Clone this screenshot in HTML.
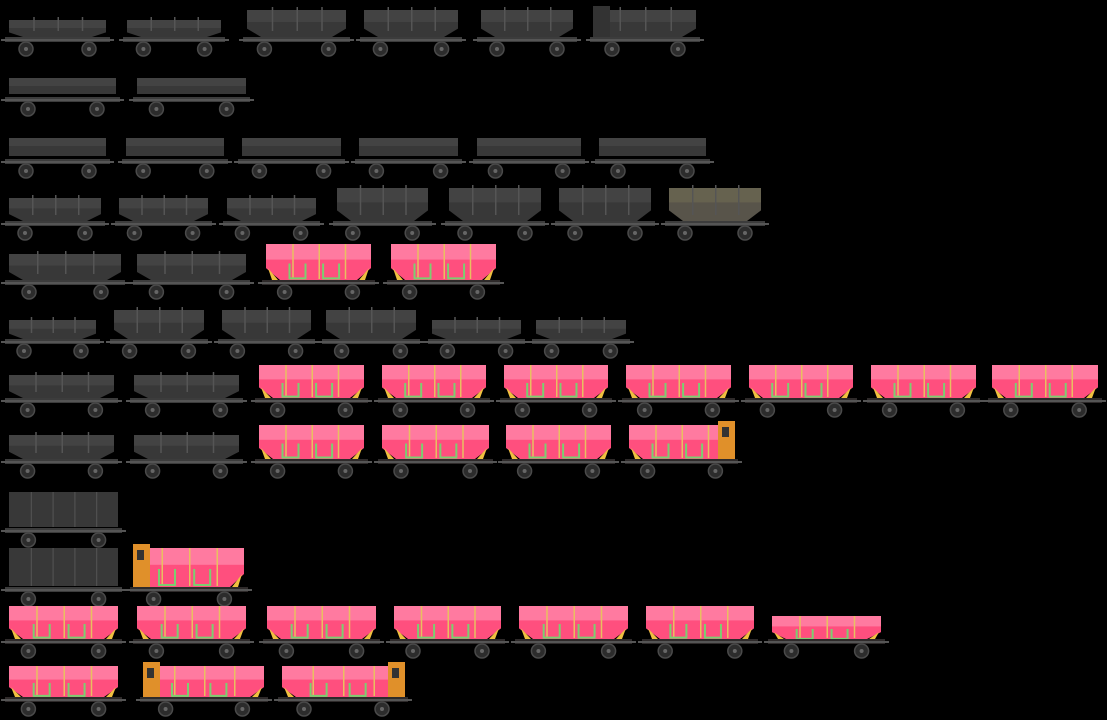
<!DOCTYPE html>
<html><head><meta charset="utf-8"><style>
html,body{margin:0;padding:0;background:#000;width:1107px;height:720px;overflow:hidden}
</style></head><body>
<svg id="s" width="1107" height="720" xmlns="http://www.w3.org/2000/svg"></svg>
<script>
const W=[];
function row(frameY,topY,list){list.forEach(a=>W.push({fy:frameY,ty:topY-(a[3]=='t'?10:0),x1:a[0],x2:a[1],c:a[2],t:a[3]||'h',cab:a[4]}));}
row(40,20,[[5,110,'d'],[123,225,'d'],[243,350,'d','t'],[360,462,'d','t'],[477,577,'d','t'],[590,700,'d','t','L']]);
row(100,78,[[5,120,'d','f'],[133,250,'d','f']]);
row(162,138,[[5,110,'d','f'],[122,228,'d','f'],[238,345,'d','f'],[355,462,'d','f'],[473,585,'d','f'],[595,710,'d','f']]);
row(224,198,[[5,105,'d'],[115,212,'d'],[223,320,'d'],[333,432,'d','t'],[445,545,'d','t'],[555,655,'d','t'],[665,765,'o','t']]);
row(283,254,[[5,125,'d'],[133,250,'d'],[262,375,'p','t'],[387,500,'p','t']]);
row(342,320,[[5,100,'d'],[110,208,'d','t'],[218,315,'d','t'],[322,420,'d','t'],[428,525,'d'],[532,630,'d']]);
row(401,375,[[5,118,'d'],[130,243,'d'],[255,368,'p','t'],[378,490,'p','t'],[500,612,'p','t'],[622,735,'p','t'],[745,857,'p','t'],[867,980,'p','t'],[988,1102,'p','t']]);
row(462,435,[[5,118,'d'],[130,243,'d'],[255,368,'p','t'],[378,493,'p','t'],[502,615,'p','t'],[625,738,'p','t','R']]);
row(531,492,[[5,122,'d','b']]);
row(590,548,[[5,122,'d','b'],[130,248,'p','h','L']]);
row(642,616,[[5,122,'p','t'],[133,250,'p','t'],[263,380,'p','t'],[390,505,'p','t'],[515,632,'p','t'],[642,758,'p','t'],[768,885,'p']]);
row(700,676,[[5,122,'p','t'],[140,268,'p','t','L'],[278,408,'p','t','R']]);
let h='';
W.forEach(w=>{
 const {fy,ty,x1,x2,c,t,cab}=w;const L=x2-x1;
 const body=c=='p'?'#ff4f7e':c=='o'?'#58544a':'#383838';
 const top=c=='p'?'#ff7aa0':c=='o'?'#66624f':'#434343';
 const bx1=x1+4,bx2=x2-4;
 let by2=fy-3;
 if(t=='f'){
  h+=`<rect x="${bx1}" y="${ty}" width="${bx2-bx1}" height="${fy-ty-6}" fill="${top}"/>`;
  h+=`<rect x="${bx1}" y="${ty+8}" width="${bx2-bx1}" height="${fy-ty-14}" fill="${body}"/>`;
 }else if(t=='b'){
  h+=`<rect x="${bx1}" y="${ty}" width="${bx2-bx1}" height="${fy-ty-4}" fill="${body}"/>`;
  for(let i=1;i<5;i++)h+=`<rect x="${bx1+i*(bx2-bx1)/5}" y="${ty}" width="1" height="${fy-ty-4}" fill="#555"/>`;
 }else{
  const hgt=fy-ty;const mid=ty+hgt*0.62;
  h+=`<polygon points="${bx1},${ty} ${bx2},${ty} ${bx2},${mid} ${bx2-14},${by2} ${bx1+14},${by2} ${bx1},${mid}" fill="${body}"/>`;
  h+=`<rect x="${bx1}" y="${ty}" width="${bx2-bx1}" height="${hgt*0.4}" fill="${top}"/>`;
  if(c=='p'){
   for(let i=1;i<4;i++)h+=`<rect x="${bx1+i*(bx2-bx1)/4}" y="${ty}" width="1.5" height="${hgt-4}" fill="#e8c060"/>`;
   [0.3,0.62].forEach(f=>{const cx=bx1+f*(bx2-bx1);h+=`<path d="M${cx-8},${ty+hgt*0.5} v${hgt*0.38} h16 v-${hgt*0.38}" stroke="#7ccf70" stroke-width="2" fill="none"/>`;});
   h+=`<polygon points="${bx1+2},${mid} ${bx1+12},${by2} ${bx1+6},${by2}" fill="#f0c040"/><polygon points="${bx2-2},${mid} ${bx2-12},${by2} ${bx2-6},${by2}" fill="#f0c040"/>`;
  } else {
   for(let i=1;i<4;i++)h+=`<rect x="${bx1+i*(bx2-bx1)/4}" y="${ty-3}" width="1.5" height="${hgt-6}" fill="#555"/>`;
  }
 }
 if(cab){const cx=cab=='L'?x1+3:x2-20;h+=`<rect x="${cx}" y="${ty-4}" width="17" height="${fy-ty+2}" fill="${c=='p'?'#e0902a':'#333'}"/><rect x="${cx+4}" y="${ty+2}" width="7" height="10" fill="#333"/>`;}
 h+=`<rect x="${x1}" y="${fy-3}" width="${L}" height="5" fill="${c=='p'?'#2e2a2a':'#3c3c3c'}"/>`;
 h+=`<rect x="${x1-4}" y="${fy-1}" width="${L+8}" height="2" fill="#555"/>`;
 [x1+L*0.2,x2-L*0.2].forEach(cx=>{h+=`<circle cx="${cx}" cy="${fy+9}" r="7" fill="#2c2c2c" stroke="#4a4a4a" stroke-width="1.5"/><circle cx="${cx}" cy="${fy+9}" r="2" fill="#666"/>`;});
});
document.getElementById('s').innerHTML=h;
</script>
</body></html>
